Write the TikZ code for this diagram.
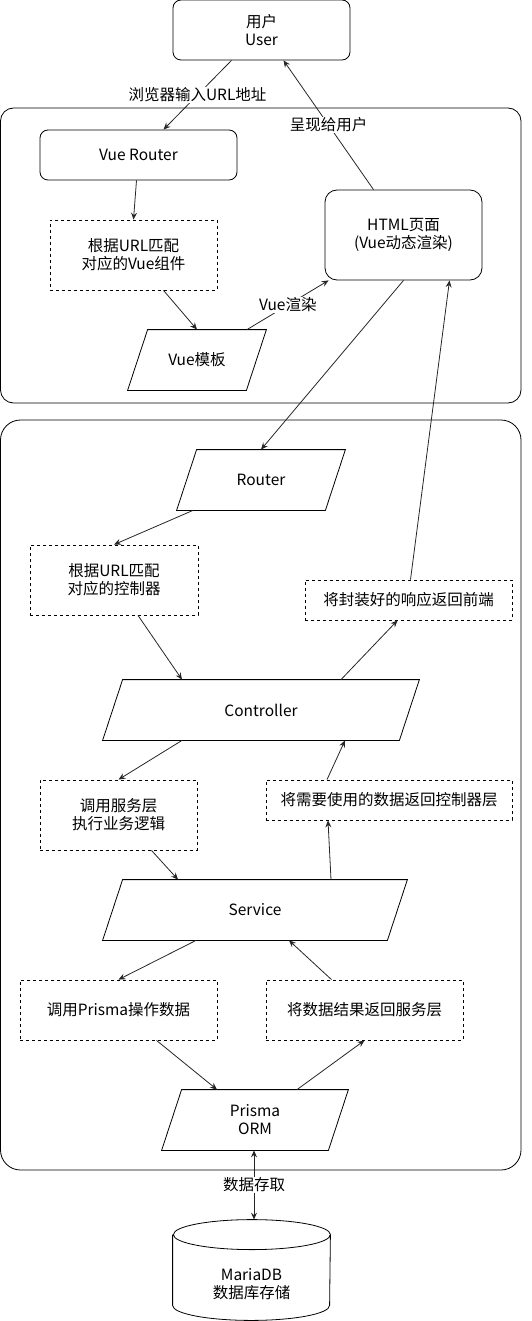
\documentclass[tikz,border=0pt]{standalone}
\usepackage{fontspec}
\setmainfont{Noto Sans CJK SC}
\usepackage{tikz}
\usetikzlibrary{arrows.meta}
\tikzset{tip/.tip={Stealth[length=7pt,width=6pt,inset=2.5pt]}}
\tikzstyle{rbox}=[draw, rounded corners=8pt, inner sep=0pt, align=center]
\tikzstyle{dbox}=[draw, dash pattern=on 3pt off 3pt, inner sep=0pt, align=center]
\tikzstyle{para}=[inner sep=0pt, align=center, minimum height=60pt]
\tikzstyle{arr}=[-tip, draw=black!85]
\tikzstyle{lbl}=[fill=white, inner sep=1pt]

\begin{document}
\begin{tikzpicture}[x=1pt, y=-1pt, font=\fontsize{15.5}{18}\selectfont, line width=0.8pt]
    \useasboundingbox (0,0) rectangle (531,1321);
    % containers
    \draw[rounded corners=13pt] (0.5,108) rectangle (521,403);
    \draw[rounded corners=20pt] (0.5,420) rectangle (521,1170);

    % front end
    \node[rbox, minimum width=177pt, minimum height=60pt] (user) at (261.5,30) {用户\\User};
    \node[rbox, minimum width=197pt, minimum height=50pt] (vr) at (138.5,155) {Vue Router};
    \node[dbox, minimum width=167pt, minimum height=70pt] (dv) at (133.5,255) {根据URL匹配\\对应的Vue组件};
    \node[para, minimum width=138pt] (vtpl) at (197,360) {Vue模板};
    \node[rbox, rounded corners=12pt, minimum width=157pt, minimum height=90pt] (html) at (403.5,235) {HTML页面\\(Vue动态渲染)};

    % back end
    \node[para, minimum width=168pt] (rt) at (261,480) {Router};
    \node[dbox, minimum width=168pt, minimum height=70pt] (dm1) at (114,580) {根据URL匹配\\对应的控制器};
    \node[dbox, minimum width=207pt, minimum height=40pt] (ret1) at (408.5,600) {将封装好的响应返回前端};
    \node[para, minimum width=316pt] (ctl) at (261,710) {Controller};
    \node[dbox, minimum width=157pt, minimum height=70pt] (callsvc) at (118.5,815) {调用服务层\\执行业务逻辑};
    \node[dbox, minimum width=246pt, minimum height=40pt] (ret2) at (389,800) {将需要使用的数据返回控制器层};
    \node[para, minimum width=304pt] (svc) at (255,910) {Service};
    \node[dbox, minimum width=197pt, minimum height=60pt] (callp) at (118.5,1010) {调用Prisma操作数据};
    \node[dbox, minimum width=197pt, minimum height=60pt] (ret3) at (364.5,1010) {将数据结果返回服务层};
    \node[para, minimum width=186pt] (orm) at (255,1120) {Prisma\\ORM};

    % database
    \node[minimum width=157pt, minimum height=100pt, inner sep=0pt] (db) at (251.5,1270) {};
    \node[align=center] (dbtxt) at (251.5,1284) {MariaDB\\数据库存储};
    \draw ([yshift=-15pt]db.north west) -- ([yshift=15pt]db.south west)
      arc[start angle=180, end angle=360, x radius=78.5pt, y radius=15pt]
      -- ([yshift=-15pt]db.north east)
      arc[start angle=0, end angle=180, x radius=78.5pt, y radius=15pt]
      arc[start angle=180, end angle=360, x radius=78.5pt, y radius=15pt];

    \foreach \n in {vtpl, rt, ctl, svc, orm}
      \draw ([xshift=20pt]\n.north west) -- (\n.north east) -- ([xshift=-20pt]\n.south east) -- (\n.south west) -- cycle;

    % flow
    \draw[arr] ([xshift=-30pt]user.south) -- node[lbl]{浏览器输入URL地址} ([xshift=25pt]vr.north);
    \draw[arr] ([xshift=-30pt]html.north) -- node[lbl]{呈现给用户} ([xshift=22pt]user.south);
    \draw[arr] ([xshift=-2pt]vr.south) -- (dv.north);
    \draw[arr] ([xshift=30pt]dv.south) -- (vtpl.north);
    \draw[arr] ([xshift=50pt]vtpl.north) -- node[lbl]{Vue渲染} ([xshift=4pt]html.south west);
    \draw[arr] (html.south) -- (rt.north);
    \draw[arr] ([xshift=-68pt]rt.south) -- (dm1.north);
    \draw[arr] ([xshift=24pt]dm1.south) -- ([xshift=-79pt]ctl.north);
    \draw[arr] ([xshift=80pt]ctl.north) -- ([xshift=-11pt]ret1.south);
    \draw[arr] ([xshift=2pt]ret1.north) -- ([xshift=46pt]html.south);
    \draw[arr] ([xshift=-79pt]ctl.south) -- (callsvc.north);
    \draw[arr] ([xshift=33pt]callsvc.south) -- ([xshift=-77pt]svc.north);
    \draw[arr] ([xshift=76pt]svc.north) -- ([xshift=-61pt]ret2.south);
    \draw[arr] ([xshift=-62pt]ret2.north) -- ([xshift=84pt]ctl.south);
    \draw[arr] ([xshift=-59pt]svc.south) -- (callp.north);
    \draw[arr] ([xshift=38pt]callp.south) -- ([xshift=-38pt]orm.north);
    \draw[arr] ([xshift=42pt]orm.north) -- (ret3.south);
    \draw[arr] ([xshift=-33pt]ret3.north) -- ([xshift=34pt]svc.south);
    \draw[arr, tip-tip] ([xshift=-1pt]orm.south) -- node[lbl]{数据存取} ([xshift=2.5pt]db.north);
\end{tikzpicture}
\end{document}
